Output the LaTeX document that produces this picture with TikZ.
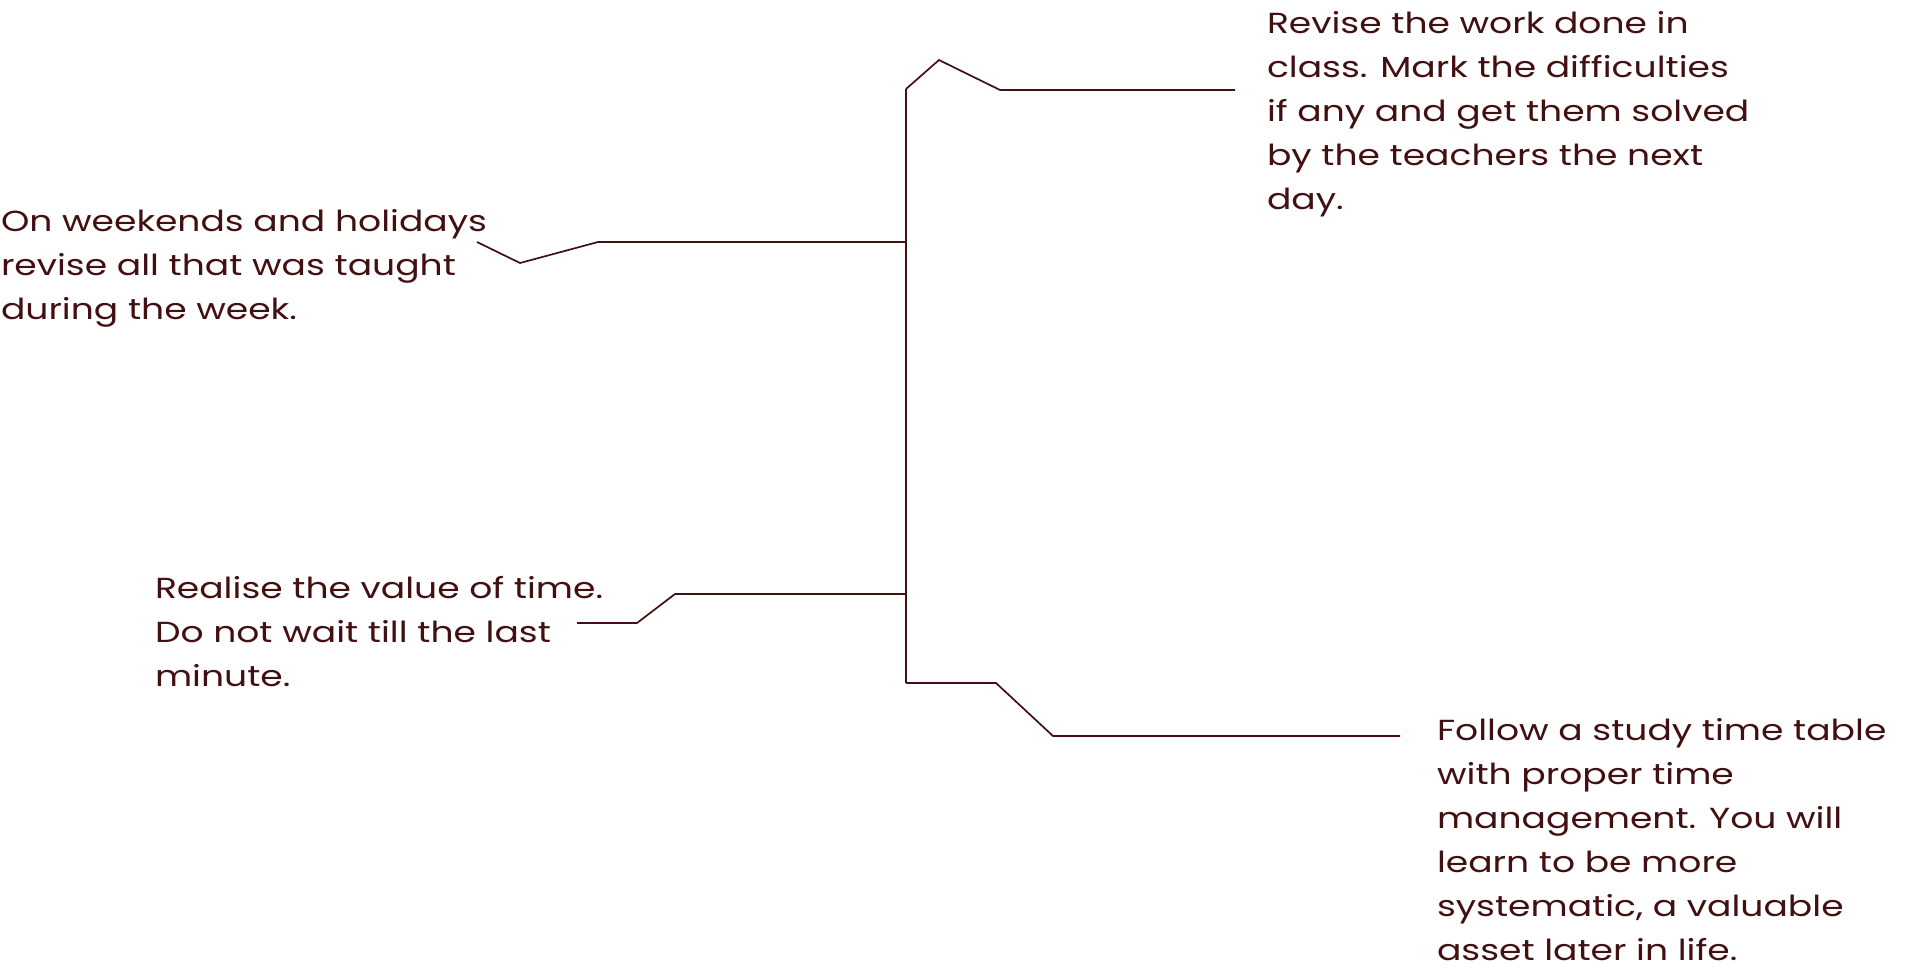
\documentclass[tikz,border=0pt]{standalone}
\usepackage{fontspec}
\setmainfont[FakeStretch=1.245]{Poppins}
\definecolor{ink}{RGB}{66,16,16}
\begin{document}
\begin{tikzpicture}[x=1bp,y=-1bp,
  txt/.style={anchor=base west,inner sep=0pt,outer sep=0pt,text=ink,font=\fontsize{29bp}{44bp}\selectfont},
  conn/.style={draw=ink,line width=1.7bp,line join=miter}]
\useasboundingbox (0,0) rectangle (1930,972);
% trunk coordinates
\coordinate (top) at (906,89);
\coordinate (bot) at (906,683);
\coordinate (j1) at (906,242);
\coordinate (j2) at (906,594);
\draw[conn] (top) -- (bot);
% text nodes
\node[txt] (tr) at (1267,33) {\begin{tabular}[t]{@{}l@{}}Revise the work done in\\class. Mark the difficulties\\if any and get them solved\\by the teachers the next\\day.\end{tabular}};
\node[txt] (l1) at (1,231) {\begin{tabular}[t]{@{}l@{}}On weekends and holidays\\revise all that was taught\\during the week.\end{tabular}};
\node[txt] (l2) at (155,598) {\begin{tabular}[t]{@{}l@{}}Realise the value of time.\\Do not wait till the last\\minute.\end{tabular}};
\node[txt] (br) at (1437,740) {\begin{tabular}[t]{@{}l@{}}Follow a study time table\\with proper time\\management. You will\\learn to be more\\systematic, a valuable\\asset later in life.\end{tabular}};
% branch end points
\coordinate (e1) at (1235,90);
\coordinate (e2) at (477,242);
\coordinate (e3) at (577,623);
\coordinate (e4) at (1400,736);
\draw[conn] (top) -- (939,60) -- (1000,90) -- (e1);
\draw[conn] (j1) -- (598,242) -- (520,263) -- (e2);
\draw[conn] (j2) -- (675,594) -- (637,623) -- (e3);
\draw[conn] (bot) -- (996,683) -- (1053,736) -- (e4);
\end{tikzpicture}
\end{document}
